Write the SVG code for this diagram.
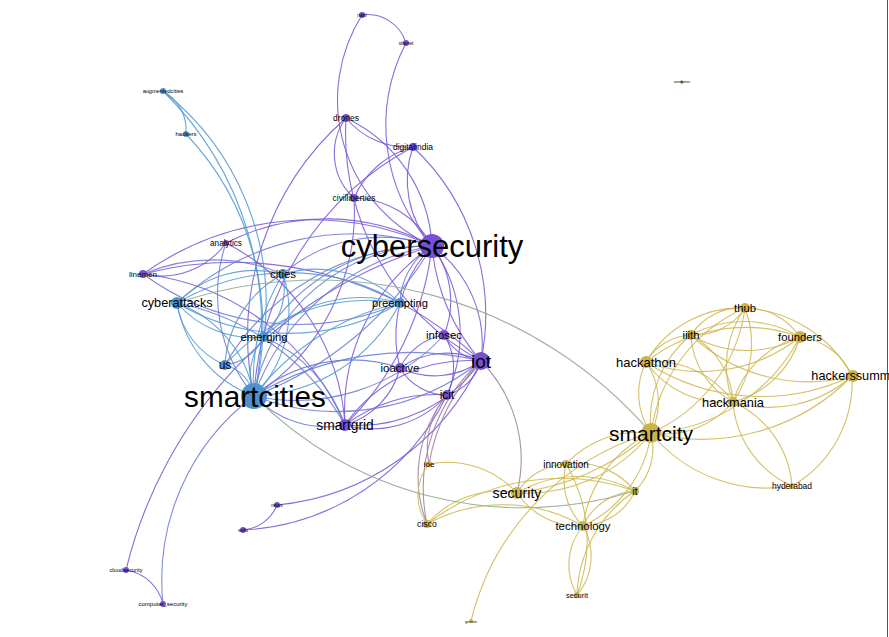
<svg xmlns="http://www.w3.org/2000/svg" width="889" height="637" viewBox="0 0 889 637">
<style>
#edges path{fill:none;stroke-width:1.1;opacity:.85}
.p{stroke:#7453d6}.bp{stroke:#6878d6}.b{stroke:#4f96d2}.y{stroke:#cdb64c}.m{stroke:#9c7e9c}.g{stroke:#8fa38e}
.np{fill:#7650d2}.nb{fill:#4d92cf}.ny{fill:#c9b44c}.nw{fill:#6a9a7a}
text{font-family:"Liberation Sans",Arial,sans-serif;text-anchor:middle;dominant-baseline:central;fill:#000}
</style>
<rect width="889" height="637" fill="#fff"/>
<line x1="887.5" y1="0" x2="887.5" y2="637" stroke="#555" stroke-width="1"/>
<g id="edges">
<g class="p">
<path d="M362,15 A40,40 0 0,1 406,43"/>
<path d="M362,15 A160,160 0 0,0 432,246"/>
<path d="M406,43 A180,180 0 0,0 432,246"/>
<path d="M346,118 A60,60 0 0,0 354,198"/>
<path d="M346,118 A80,80 0 0,0 413,147"/>
<path d="M346,118 A150,150 0 0,1 432,246"/>
<path d="M413,147 A100,100 0 0,0 432,246"/>
<path d="M413,147 A90,90 0 0,0 354,198"/>
<path d="M354,198 A90,90 0 0,1 432,246"/>
<path d="M346,118 A260,260 0 0,0 481,361"/>
<path d="M413,147 A230,230 0 0,1 481,361"/>
<path d="M413,147 A300,300 0 0,0 254,396"/>
<path d="M354,198 A220,220 0 0,1 254,396"/>
<path d="M346,118 A290,290 0 0,0 254,396"/>
<path d="M432,246 A120,120 0 0,1 481,361"/>
<path d="M432,246 A200,200 0 0,0 481,361"/>
<path d="M432,246 A90,90 0 0,1 444,335"/>
<path d="M432,246 A130,130 0 0,0 400,368"/>
<path d="M432,246 A150,150 0 0,1 447,395"/>
<path d="M432,246 A200,200 0 0,0 345,425"/>
<path d="M432,246 A300,300 0 0,1 345,425"/>
<path d="M432,246 A290,290 0 0,0 143,274"/>
<path d="M432,246 A220,220 0 0,0 226,243"/>
<path d="M481,361 A50,50 0 0,1 444,335"/>
<path d="M481,361 A80,80 0 0,0 400,368"/>
<path d="M481,361 A80,80 0 0,1 400,368"/>
<path d="M481,361 A50,50 0 0,1 447,395"/>
<path d="M481,361 A150,150 0 0,1 345,425"/>
<path d="M481,361 A150,150 0 0,0 345,425"/>
<path d="M444,335 A60,60 0 0,0 400,368"/>
<path d="M444,335 A60,60 0 0,1 447,395"/>
<path d="M400,368 A55,55 0 0,0 447,395"/>
<path d="M400,368 A80,80 0 0,1 345,425"/>
<path d="M447,395 A100,100 0 0,1 345,425"/>
<path d="M447,395 A150,150 0 0,0 345,425"/>
<path d="M143,274 A80,80 0 0,0 226,243"/>
<path d="M143,274 A360,360 0 0,1 481,361"/>
<path d="M143,274 A250,250 0 0,1 345,425"/>
<path d="M226,243 A220,220 0 0,1 345,425"/>
<path d="M277,505 A40,40 0 0,1 243,530"/>
<path d="M277,505 A250,250 0 0,0 481,361"/>
<path d="M243,530 A240,240 0 0,0 447,395"/>
<path d="M126,570 A45,45 0 0,1 163,604"/>
<path d="M126,570 A450,450 0 0,1 432,246"/>
</g>
<g class="bp">
<path d="M432,246 A230,230 0 0,0 254,396"/>
<path d="M432,246 A350,350 0 0,1 254,396"/>
<path d="M432,246 A180,180 0 0,0 254,396"/>
<path d="M432,246 A260,260 0 0,0 177,303"/>
<path d="M432,246 A150,150 0 0,0 283,274"/>
<path d="M432,246 A190,190 0 0,0 264,337"/>
<path d="M432,246 A240,240 0 0,0 225,365"/>
<path d="M432,246 A70,70 0 0,0 400,303"/>
<path d="M481,361 A230,230 0 0,1 254,396"/>
<path d="M481,361 A300,300 0 0,0 254,396"/>
<path d="M444,335 A200,200 0 0,1 254,396"/>
<path d="M400,368 A150,150 0 0,0 254,396"/>
<path d="M345,425 A100,100 0 0,1 254,396"/>
<path d="M226,243 A160,160 0 0,0 254,396"/>
<path d="M163,604 A230,230 0 0,1 254,396"/>
<path d="M143,274 A260,260 0 0,0 400,303"/>
<path d="M143,274 A180,180 0 0,1 283,274"/>
<path d="M177,303 A250,250 0 0,1 345,425"/>
<path d="M264,337 A150,150 0 0,1 345,425"/>
</g>
<g class="m">
<path d="M481,361 A170,170 0 0,0 427,524"/>
<path d="M481,361 A140,140 0 0,1 517,493"/>
<path d="M447,395 A130,130 0 0,0 427,524"/>
<path d="M447,395 A80,80 0 0,0 429,464"/>
<path d="M481,361 A200,200 0 0,0 429,464"/>
</g>
<g class="b">
<path d="M163,91 A45,45 0 0,1 186,134"/>
<path d="M163,91 A330,330 0 0,1 254,396"/>
<path d="M163,91 A270,270 0 0,1 264,337"/>
<path d="M186,134 A280,280 0 0,1 254,396"/>
<path d="M177,303 A110,110 0 0,1 283,274"/>
<path d="M177,303 A100,100 0 0,0 264,337"/>
<path d="M177,303 A80,80 0 0,0 225,365"/>
<path d="M177,303 A120,120 0 0,0 254,396"/>
<path d="M177,303 A120,120 0 0,1 254,396"/>
<path d="M177,303 A220,220 0 0,1 400,303"/>
<path d="M177,303 A220,220 0 0,0 400,303"/>
<path d="M283,274 A70,70 0 0,1 264,337"/>
<path d="M283,274 A110,110 0 0,0 225,365"/>
<path d="M283,274 A120,120 0 0,1 254,396"/>
<path d="M283,274 A200,200 0 0,0 254,396"/>
<path d="M283,274 A120,120 0 0,1 400,303"/>
<path d="M264,337 A60,60 0 0,0 254,396"/>
<path d="M264,337 A50,50 0 0,1 225,365"/>
<path d="M264,337 A140,140 0 0,1 400,303"/>
<path d="M225,365 A40,40 0 0,1 254,396"/>
<path d="M225,365 A190,190 0 0,1 400,303"/>
<path d="M400,303 A170,170 0 0,1 254,396"/>
<path d="M400,303 A250,250 0 0,0 254,396"/>
</g>
<g class="g">
<path d="M177,303 A440,440 0 0,1 651,433"/>
<path d="M254,396 A380,380 0 0,0 635,491"/>
</g>
<g class="y">
<path d="M651,433 A160,160 0 0,1 745,308"/>
<path d="M651,433 A160,160 0 0,0 745,308"/>
<path d="M651,433 A110,110 0 0,1 691,335"/>
<path d="M651,433 A180,180 0 0,0 800,337"/>
<path d="M651,433 A70,70 0 0,1 646,362"/>
<path d="M651,433 A70,70 0 0,0 646,362"/>
<path d="M651,433 A210,210 0 0,0 852,376"/>
<path d="M651,433 A90,90 0 0,0 733,402"/>
<path d="M651,433 A150,150 0 0,0 792,486"/>
<path d="M651,433 A60,60 0 0,1 635,491"/>
<path d="M651,433 A120,120 0 0,1 583,526"/>
<path d="M651,433 A120,120 0 0,0 583,526"/>
<path d="M651,433 A100,100 0 0,0 566,464"/>
<path d="M651,433 A160,160 0 0,1 517,493"/>
<path d="M745,308 A60,60 0 0,0 691,335"/>
<path d="M745,308 A60,60 0 0,1 691,335"/>
<path d="M745,308 A65,65 0 0,1 800,337"/>
<path d="M745,308 A130,130 0 0,1 852,376"/>
<path d="M745,308 A110,110 0 0,0 646,362"/>
<path d="M745,308 A100,100 0 0,0 733,402"/>
<path d="M745,308 A100,100 0 0,1 733,402"/>
<path d="M691,335 A110,110 0 0,1 800,337"/>
<path d="M691,335 A110,110 0 0,0 800,337"/>
<path d="M691,335 A55,55 0 0,0 646,362"/>
<path d="M691,335 A170,170 0 0,0 852,376"/>
<path d="M691,335 A80,80 0 0,1 733,402"/>
<path d="M691,335 A80,80 0 0,0 733,402"/>
<path d="M800,337 A160,160 0 0,0 646,362"/>
<path d="M800,337 A160,160 0 0,1 646,362"/>
<path d="M800,337 A65,65 0 0,1 852,376"/>
<path d="M800,337 A95,95 0 0,0 733,402"/>
<path d="M800,337 A95,95 0 0,1 733,402"/>
<path d="M646,362 A95,95 0 0,1 733,402"/>
<path d="M646,362 A95,95 0 0,0 733,402"/>
<path d="M646,362 A210,210 0 0,0 852,376"/>
<path d="M852,376 A125,125 0 0,1 733,402"/>
<path d="M852,376 A120,120 0 0,1 792,486"/>
<path d="M733,402 A100,100 0 0,0 792,486"/>
<path d="M733,402 A100,100 0 0,1 792,486"/>
<path d="M517,493 A60,60 0 0,1 566,464"/>
<path d="M517,493 A120,120 0 0,1 635,491"/>
<path d="M517,493 A75,75 0 0,0 583,526"/>
<path d="M517,493 A95,95 0 0,0 427,524"/>
<path d="M517,493 A95,95 0 0,0 429,464"/>
<path d="M566,464 A75,75 0 0,1 635,491"/>
<path d="M566,464 A65,65 0 0,0 583,526"/>
<path d="M635,491 A60,60 0 0,1 583,526"/>
<path d="M635,491 A60,60 0 0,0 583,526"/>
<path d="M583,526 A60,60 0 0,0 577,595"/>
<path d="M583,526 A60,60 0 0,1 577,595"/>
<path d="M566,464 A150,150 0 0,1 577,595"/>
<path d="M635,491 A130,130 0 0,0 577,595"/>
<path d="M427,524 A50,50 0 0,1 429,464"/>
<path d="M427,524 A160,160 0 0,1 583,526"/>
<path d="M427,524 A220,220 0 0,1 635,491"/>
<path d="M471,621 A260,260 0 0,1 651,433"/>
<path d="M517,493 A250,250 0 0,0 651,433"/>
</g>
</g>
<g id="n-nabl"><circle class="np" cx="362" cy="15" r="3"/><text x="362" y="15" font-size="5">nabl</text></g>
<g id="n-sitenet"><circle class="np" cx="406" cy="43" r="3"/><text x="406" y="43" font-size="5">sitenet</text></g>
<g id="n-drones"><circle class="np" cx="346" cy="118" r="4"/><text x="346" y="118" font-size="8.5">drones</text></g>
<g id="n-digitalindia"><circle class="np" cx="413" cy="147" r="4"/><text x="413" y="147" font-size="8.5">digitalindia</text></g>
<g id="n-civilliberties"><circle class="np" cx="354" cy="198" r="4"/><text x="354" y="198" font-size="8.4">civilliberties</text></g>
<g id="n-analytics"><circle class="np" cx="226" cy="243" r="3"/><text x="226" y="243" font-size="8.2">analytics</text></g>
<g id="n-linemen"><circle class="np" cx="143" cy="274" r="4"/><text x="143" y="274" font-size="8">linemen</text></g>
<g id="n-augmentedcities"><circle class="nb" cx="163" cy="91" r="3"/><text x="163" y="91" font-size="5.6">augmentedcities</text></g>
<g id="n-hackers"><circle class="nb" cx="186" cy="134" r="3"/><text x="186" y="134" font-size="6">hackers</text></g>
<g id="n-cyberattacks"><circle class="nb" cx="177" cy="303" r="6"/><text x="177" y="303" font-size="12.7">cyberattacks</text></g>
<g id="n-cities"><circle class="nb" cx="283" cy="274" r="5"/><text x="283" y="274" font-size="11.4">cities</text></g>
<g id="n-emerging"><circle class="nb" cx="264" cy="337" r="5"/><text x="264" y="337" font-size="11.3">emerging</text></g>
<g id="n-us"><circle class="nb" cx="225" cy="365" r="5"/><text x="225" y="365" font-size="12">us</text></g>
<g id="n-preempting"><circle class="nb" cx="400" cy="303" r="5"/><text x="400" y="303" font-size="11.2">preempting</text></g>
<g id="n-smartgrid"><circle class="np" cx="345" cy="425" r="6"/><text x="345" y="425" font-size="13.8">smartgrid</text></g>
<g id="n-infosec"><circle class="np" cx="444" cy="335" r="5"/><text x="444" y="335" font-size="11.4">infosec</text></g>
<g id="n-ioactive"><circle class="np" cx="400" cy="368" r="5"/><text x="400" y="368" font-size="11.5">ioactive</text></g>
<g id="n-icit"><circle class="np" cx="447" cy="395" r="5"/><text x="447" y="395" font-size="12">icit</text></g>
<g id="n-iot"><circle class="np" cx="481" cy="361" r="9"/><text x="481" y="361" font-size="19">iot</text></g>
<g id="n-cybersecurity"><circle class="np" cx="432" cy="246" r="12"/><text x="432" y="246" font-size="31">cybersecurity</text></g>
<g id="n-smartcities"><circle class="nb" cx="254" cy="396" r="13"/><text x="255" y="396" font-size="29.7">smartcities</text></g>
<g id="n-news"><circle class="np" cx="277" cy="505" r="3"/><text x="277" y="505" font-size="5">news</text></g>
<g id="n-sells"><circle class="np" cx="243" cy="530" r="3"/><text x="243" y="530" font-size="5">sells</text></g>
<g id="n-cloudsecurity"><circle class="np" cx="126" cy="570" r="3"/><text x="126" y="570" font-size="5.7">cloudsecurity</text></g>
<g id="n-computersecurity"><circle class="np" cx="163" cy="604" r="3"/><text x="163" y="604" font-size="6">computer_security</text></g>
<g id="n-wp"><circle class="nw" cx="682" cy="82" r="1.5"/><text x="682" y="82" font-size="3.5">wordpress</text></g>
<g id="n-ioe"><circle class="ny" cx="429" cy="464" r="3"/><text x="429" y="464" font-size="8">ioe</text></g>
<g id="n-cisco"><circle class="ny" cx="427" cy="524" r="4"/><text x="427" y="524" font-size="8.7">cisco</text></g>
<g id="n-security"><circle class="ny" cx="517" cy="493" r="6"/><text x="517" y="493" font-size="14.2">security</text></g>
<g id="n-innovation"><circle class="ny" cx="566" cy="464" r="4"/><text x="566" y="464" font-size="10">innovation</text></g>
<g id="n-it"><circle class="ny" cx="635" cy="491" r="4"/><text x="635" y="491" font-size="10">it</text></g>
<g id="n-technology"><circle class="ny" cx="583" cy="526" r="5"/><text x="583" y="526" font-size="11.4">technology</text></g>
<g id="n-securit"><circle class="ny" cx="577" cy="595" r="3"/><text x="577" y="595" font-size="7.5">securit</text></g>
<g id="n-gnsion"><circle class="ny" cx="471" cy="621" r="2"/><text x="471" y="621" font-size="4">gnsion</text></g>
<g id="n-thub"><circle class="ny" cx="745" cy="308" r="5"/><text x="745" y="308" font-size="11.3">thub</text></g>
<g id="n-iiith"><circle class="ny" cx="691" cy="335" r="5"/><text x="691" y="335" font-size="11.3">iiith</text></g>
<g id="n-founders"><circle class="ny" cx="800" cy="337" r="6"/><text x="800" y="337" font-size="11.3">founders</text></g>
<g id="n-hackathon"><circle class="ny" cx="646" cy="362" r="6"/><text x="646" y="362" font-size="13">hackathon</text></g>
<g id="n-hackerssummit"><circle class="ny" cx="853" cy="376" r="6"/><text x="854" y="376" font-size="12.7">hackerssummit</text></g>
<g id="n-hackmania"><circle class="ny" cx="733" cy="402" r="5"/><text x="733" y="402" font-size="12.8">hackmania</text></g>
<g id="n-hyderabad"><circle class="ny" cx="792" cy="486" r="3"/><text x="792" y="486" font-size="8.5">hyderabad</text></g>
<g id="n-smartcity"><circle class="ny" cx="651" cy="433" r="10"/><text x="651" y="433" font-size="21">smartcity</text></g>
</svg>
